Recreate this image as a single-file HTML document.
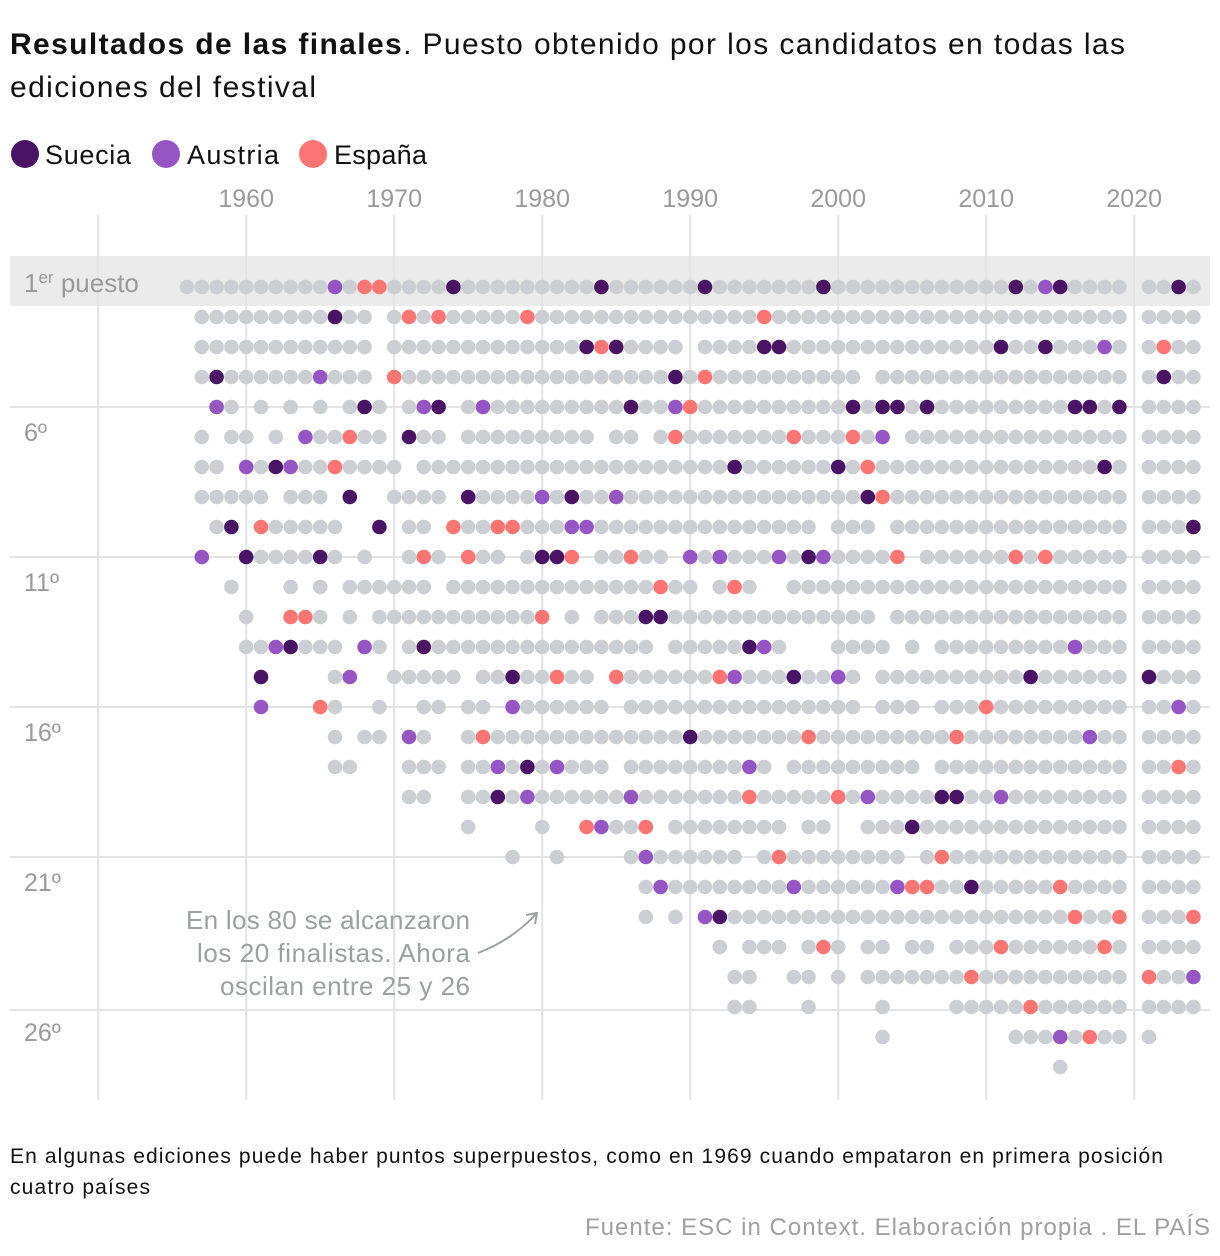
<!DOCTYPE html>
<html><head><meta charset="utf-8">
<style>
html,body{margin:0;padding:0;background:#fff;}
svg{display:block;font-family:"Liberation Sans",sans-serif;}
</style></head>
<body>
<svg id="chart" width="1220" height="1256" viewBox="0 0 1220 1256" xmlns="http://www.w3.org/2000/svg">
  <g>
    <text x="10" y="54" font-size="30" fill="#111" textLength="1115" lengthAdjust="spacing"><tspan font-weight="bold">Resultados de las finales</tspan>. Puesto obtenido por los candidatos en todas las</text>
    <text x="10" y="97" font-size="30" fill="#111" textLength="306" lengthAdjust="spacing">ediciones del festival</text>
  </g>
  <g>
    <g><circle cx="25" cy="154" r="14" fill="#4a1464"/><text x="45" y="164" font-size="27" fill="#111" textLength="86" lengthAdjust="spacing">Suecia</text></g>
    <g><circle cx="166" cy="154" r="14" fill="#9556c3"/><text x="187" y="164" font-size="27" fill="#111" textLength="92" lengthAdjust="spacing">Austria</text></g>
    <g><circle cx="313" cy="154" r="14" fill="#fb7575"/><text x="334" y="164" font-size="27" fill="#111" textLength="93" lengthAdjust="spacing">España</text></g>
  </g>
  <rect x="10" y="256" width="1200" height="50" fill="#ebebeb"/>
  <g id="grid"></g>
  <g id="ylabels"></g>
  <g id="xlabels"></g>
  <g id="dots"></g>
  <g>
    <text x="186" y="929" font-size="26" fill="#9aa19f" textLength="284" lengthAdjust="spacing">En los 80 se alcanzaron</text>
    <text x="197" y="962" font-size="26" fill="#9aa19f" textLength="273" lengthAdjust="spacing">los 20 finalistas. Ahora</text>
    <text x="220" y="995" font-size="26" fill="#9aa19f" textLength="250" lengthAdjust="spacing">oscilan entre 25 y 26</text>
    <path d="M478,953 Q512,940 536,914" fill="none" stroke="#9aa19f" stroke-width="2"/>
    <path d="M526,915 L537,913 L535,924" fill="none" stroke="#9aa19f" stroke-width="2"/>
  </g>
  <text x="10" y="1163" font-size="21" fill="#111" textLength="1153" lengthAdjust="spacing">En algunas ediciones puede haber puntos superpuestos, como en 1969 cuando empataron en primera posición</text>
  <text x="10" y="1194" font-size="21" fill="#111" textLength="140" lengthAdjust="spacing">cuatro países</text>
  <text x="585" y="1235" font-size="24" fill="#a0a0a0" textLength="625" lengthAdjust="spacing">Fuente: ESC in Context. Elaboración propia . EL PAÍS</text>
</svg>
<script>
const firstYear = 1956;
const lastYear = 2024;
const tickYears = [1960, 1970, 1980, 1990, 2000, 2010, 2020];
const gridYears = [1950, 1960, 1970, 1980, 1990, 2000, 2010, 2020];
const rankLabels = [6, 11, 16, 21, 26];
const Z18 = "__________________", Z17 = "_________________";
// each string: ranks row, one char per year 1956..2024 ('.' other, S Suecia, A Austria, E España, _ none)
const rankRows = [
"..........A.EE...."+"S.........S......"+"S.......S........"+"....S.AS...._..S.",
"_.........S.._.E.E"+".....E..........."+"....E............"+"............_....",
"_............_...."+".........SES...._"+"....SS..........."+"...S..S...A._.E..",
"_.S......A..._E..."+"...............S."+"E.........._....."+"............_.S..",
"__A._._._._.S._.AS"+"_.A.........S..AE"+"..........S.SS.S."+"........SS.S_....",
"_._.._._A..E.._S.."+"_........._.._.E."+"......E...E.A_..."+"............_....",
"_.._A.SA..E...._.."+"................."+"..S......S.E....."+"..........S._....",
"_....._..._S__...."+"_S....A.S..A....."+"...........SE...."+"............_....",
"__.S_E.....__S_.._"+"E..EE...AA......."+"........_..._...."+"............_...S",
"_A__S....S._.__.E."+"_E.._.SSE_..E.._A"+".A...A.SA....E_.."+"....E.E....._....",
"___.___._._......_"+"..............E.."+"_.E.__..........."+"............_....",
"____.__EE._._....."+"......E_._...SS.."+"............_...."+"............_....",
"____..AS..._A._.S."+".............._.."+"...SA.___...._._."+"........A..._....",
"_____S____.A__...."+"._..S..E.._E....."+".EA...S..A._....."+".....S......_S...",
"_____A___E.__.__.."+"_.._A......_....."+"..........._..._."+"..E........._..A.",
"__________._.._A._"+"_.E.............S"+".......E........."+"E........A.._....",
"__________..___..."+"_..A.S.A..._....."+"...A._........._."+"............_..E.",
"_______________.._"+"_..S.A......A...."+"...E.....E.A....S"+"S..A........_....",
Z18+"_.____.__EA..E_.."+"......_..__...S.."+"............_....",
Z18+"____.__.____.A..."+"..._.E........_.E"+"............_....",
Z18+"_____________.A.."+"......A......AEE."+".S.....E...._....",
Z18+"_____________._._"+"AS..............."+"........E..E_...E",
Z18+Z17+"_._..._.E._.._.._"+"...E......E._....",
Z18+Z17+"__..__.._._......"+".E.........._E..A",
Z18+Z17+"__..___.____.____"+".....E......_....",
Z18+Z17+"____________.____"+"____...A.E.._.___",
Z18+Z17+Z17+"_______._________"
];
const colorMap = {".":"#cbcfd3","S":"#4a1464","A":"#9556c3","E":"#fb7575"};
const countryName = {".":"other","S":"suecia","A":"austria","E":"espana"};

const NS = "http://www.w3.org/2000/svg";
function xScale(year){ return 187 + (year - 1956) * 14.8; }
function yScale(rank){ return 287 + (rank - 1) * 30; }
function mk(tag, attrs){ const e = document.createElementNS(NS, tag); for (const k in attrs) e.setAttribute(k, attrs[k]); return e; }

const grid = document.getElementById('grid');
gridYears.forEach(y => {
  const l = mk('line', {x1:xScale(y), x2:xScale(y), y1:215, y2:1100, stroke:'#e3e3e3', 'stroke-width':2});
  
  
  grid.appendChild(l);
});
rankLabels.forEach(r => {
  const yy = yScale(r) - 30 + (r === 26 ? 3 : 0);
  const l = mk('line', {x1:10, x2:1210, y1:yy, y2:yy, stroke:'#e3e3e3', 'stroke-width':2});
  
  
  grid.appendChild(l);
});
const yl = document.getElementById('ylabels');
const first = mk('text', {x:24, y:292, 'font-size':26, fill:'#9a9a9a'});
first.innerHTML = '1<tspan font-size="17" dy="-9">er</tspan><tspan dy="9"> puesto</tspan>';


yl.appendChild(first);
rankLabels.forEach(r => {
  const t = mk('text', {x:24, y:yScale(r) + 4, 'font-size':25, fill:'#9a9a9a'});
  t.textContent = r + 'º';
  
  
  yl.appendChild(t);
});
const xl = document.getElementById('xlabels');
tickYears.forEach(y => {
  const t = mk('text', {x:xScale(y), y:207, 'font-size':25, fill:'#9a9a9a', 'text-anchor':'middle'});
  t.textContent = y;
  
  
  xl.appendChild(t);
});
const dots = document.getElementById('dots');
rankRows.forEach((row, ri) => {
  for (let i = 0; i <= lastYear - firstYear; i++) {
    const c = row[i];
    if (!c || c === '_') continue;
    const year = firstYear + i;
    const d = mk('circle', {cx:xScale(year), cy:yScale(ri + 1), r:7.3, fill:colorMap[c]});
    
    
    dots.appendChild(d);
  }
});
</script>
</body></html>
